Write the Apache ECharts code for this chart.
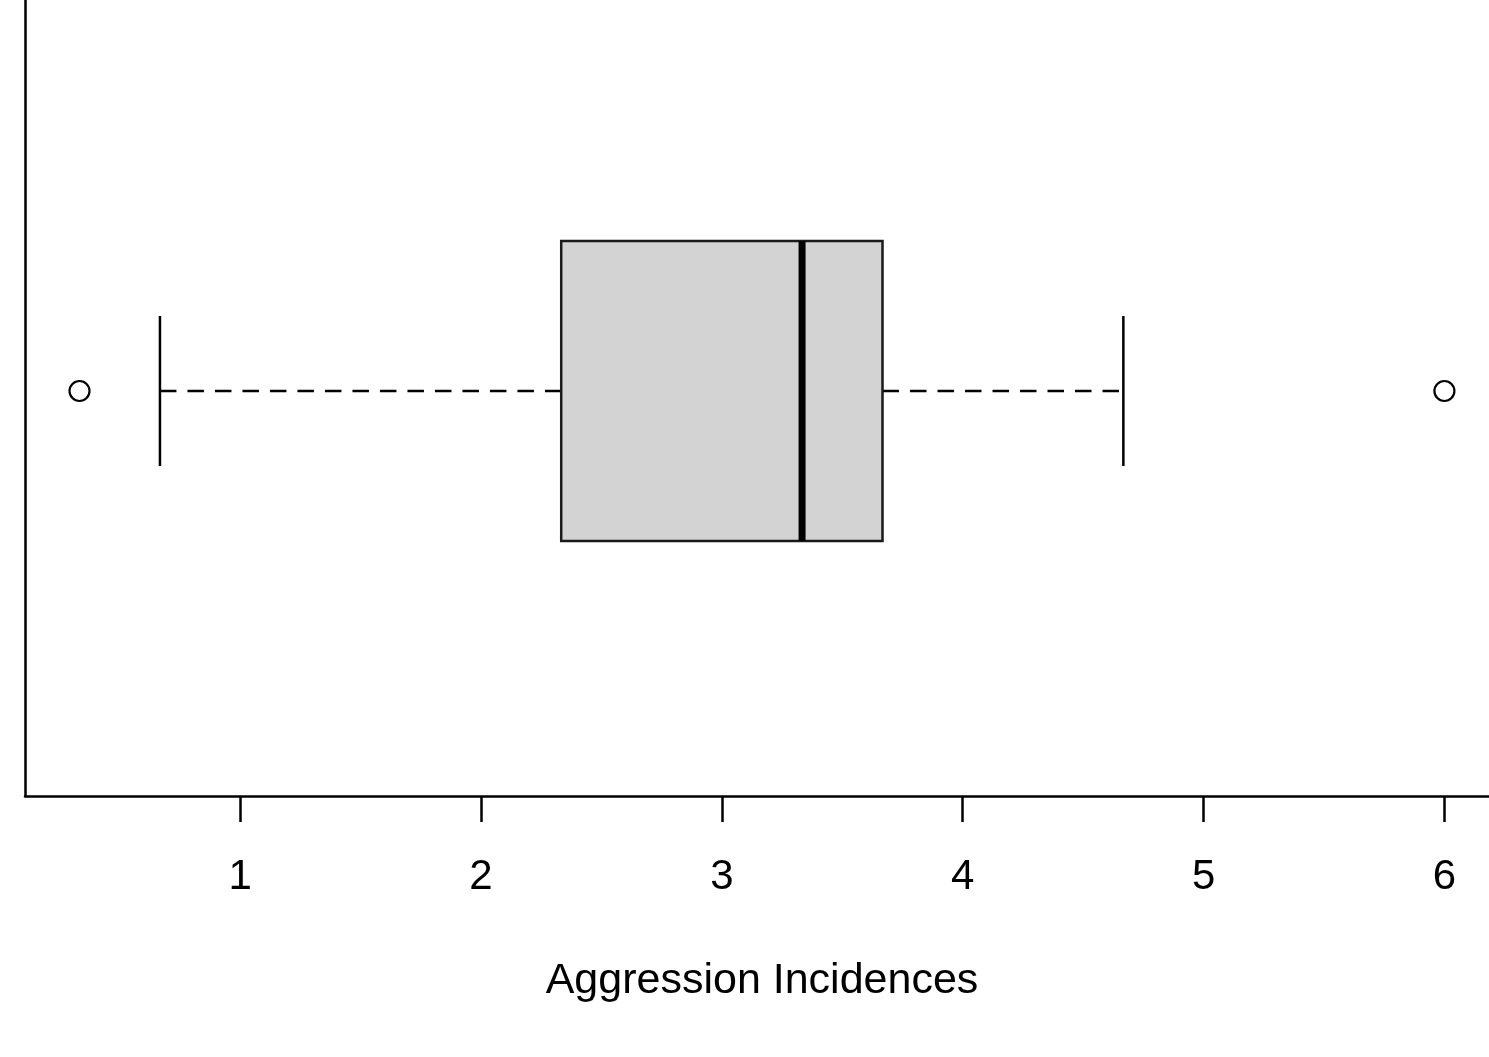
<!DOCTYPE html>
<html>
<head>
<meta charset="utf-8">
<script src="https://cdn.jsdelivr.net/npm/echarts@6/dist/echarts.min.js"></script>
<style>
html,body{margin:0;padding:0;background:#fff;}
#chart{width:1489px;height:1057px;}
</style>
</head>
<body>
<div id="chart"></div>
<script>
// ---- data ----
const groupPosition = [1];
const whiskerLow = [0.667];
const quartile1 = [2.333];
const medianValue = [3.333];
const quartile3 = [3.667];
const whiskerHigh = [4.667];
const outlierValues = [0.333, 6.0];
const tickValues = [1, 2, 3, 4, 5, 6];
const axisTitle = 'Aggression Incidences';
const xRange = [0.10667, 6.22667];
const yRange = [0.46, 1.54];

const FONT = "'Liberation Sans', Arial, Helvetica, sans-serif";

const boxData = groupPosition.map((p, i) => [whiskerLow[i], quartile1[i], medianValue[i], quartile3[i], whiskerHigh[i], p]);
const outlierData = outlierValues.map(v => [v, groupPosition[0]]);

function renderBox(params, api) {
  const wl = api.value(0), q1 = api.value(1), md = api.value(2), q3 = api.value(3), wh = api.value(4), y = api.value(5);
  const halfBox = 0.2, halfCap = 0.1;
  const pQ1Top = api.coord([q1, y + halfBox]);
  const pQ3Bot = api.coord([q3, y - halfBox]);
  const pWl = api.coord([wl, y]);
  const pWh = api.coord([wh, y]);
  const pQ1 = api.coord([q1, y]);
  const pQ3 = api.coord([q3, y]);
  const capTop = api.coord([wl, y + halfCap])[1];
  const capBot = api.coord([wl, y - halfCap])[1];
  const mdTop = api.coord([md, y + halfBox]);
  const mdBot = api.coord([md, y - halfBox]);
  const lineStyle = {stroke: '#000', lineWidth: 2.5, fill: null};
  const dashStyle = {stroke: '#000', lineWidth: 2.5, lineDash: [16.5, 11], fill: null};
  return {
    type: 'group',
    children: [
      {type: 'line', shape: {x1: pWl[0], y1: pWl[1], x2: pQ1[0], y2: pQ1[1]}, style: dashStyle},
      {type: 'line', shape: {x1: pQ3[0], y1: pQ3[1], x2: pWh[0], y2: pWh[1]}, style: dashStyle},
      {type: 'line', shape: {x1: pWl[0], y1: capTop, x2: pWl[0], y2: capBot}, style: lineStyle},
      {type: 'line', shape: {x1: pWh[0], y1: capTop, x2: pWh[0], y2: capBot}, style: lineStyle},
      {type: 'rect', shape: {x: pQ1Top[0], y: pQ1Top[1], width: pQ3Bot[0] - pQ1Top[0], height: pQ3Bot[1] - pQ1Top[1]},
       style: {fill: '#d3d3d3', stroke: '#1a1a1a', lineWidth: 2.5}},
      {type: 'line', shape: {x1: mdTop[0], y1: mdTop[1], x2: mdBot[0], y2: mdBot[1]}, style: {stroke: '#000', lineWidth: 7}}
    ]
  };
}

const chart = echarts.init(document.getElementById('chart'), null, {renderer: 'canvas'});
chart.setOption({
  animation: false,
  backgroundColor: '#ffffff',
  grid: {left: 25, top: -14, width: 1474, height: 810, containLabel: false, outerBoundsMode: 'none'},
  xAxis: {
    type: 'value',
    min: xRange[0],
    max: xRange[1],
    splitLine: {show: false},
    axisLine: {show: true, onZero: false, lineStyle: {color: '#000', width: 2.5}},
    axisTick: {show: true, length: 26, lineStyle: {color: '#000', width: 2.5}, customValues: tickValues},
    axisLabel: {show: true, customValues: tickValues, color: '#000', fontSize: 42, fontFamily: FONT, margin: 60,
      showMinLabel: true, showMaxLabel: true},
    name: axisTitle,
    nameLocation: 'middle',
    nameGap: 164,
    nameTextStyle: {color: '#000', fontSize: 43, fontFamily: FONT}
  },
  yAxis: {
    type: 'value',
    min: yRange[0],
    max: yRange[1],
    splitLine: {show: false},
    axisLine: {show: true, onZero: false, lineStyle: {color: '#000', width: 2.5}},
    axisTick: {show: false},
    axisLabel: {show: false}
  },
  series: [
    {
      type: 'custom',
      renderItem: renderBox,
      data: boxData,
      encode: {x: [0, 1, 2, 3, 4], y: 5},
      clip: false,
      z: 2
    },
    {
      type: 'scatter',
      data: outlierData,
      symbol: 'circle',
      symbolSize: 20,
      itemStyle: {color: '#fff', borderColor: '#000', borderWidth: 2.2, opacity: 1},
      z: 3
    }
  ]
});
</script>
</body>
</html>
